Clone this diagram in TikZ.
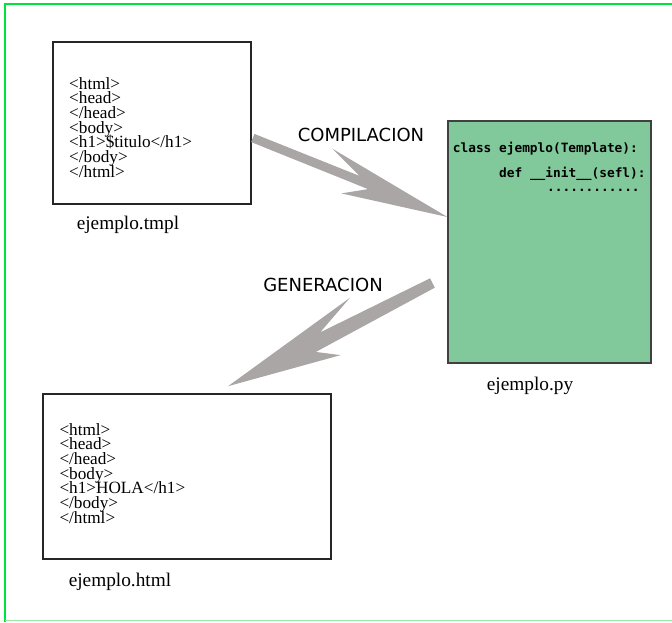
\documentclass[tikz,border=0pt]{standalone}
\usepackage{fontspec}
\setmainfont{Liberation Serif}
\newfontfamily\rotulofont{DejaVu Sans}
\newfontfamily\codigofont{DejaVu Sans Mono}
\usetikzlibrary{calc}
\definecolor{marco}{RGB}{0,226,60}
\definecolor{marcoclaro}{RGB}{150,232,170}
\definecolor{pyverde}{RGB}{129,201,155}
\definecolor{flechagris}{RGB}{170,166,166}

\begin{document}
\begin{tikzpicture}[x=1pt,y=1pt,
  caja/.style={draw=black!85,line width=1.6pt,fill=white,inner sep=0pt},
  cajapy/.style={draw=black!75,line width=1.2pt,fill=pyverde,inner sep=0pt},
  html/.style={anchor=north west,inner sep=0pt,align=left,
    font={\fontsize{17.2}{14.7}\selectfont\lineskiplimit=-30pt}},
  cod/.style={anchor=base west,inner sep=0pt,font={\codigofont\bfseries\fontsize{12.8}{14}\selectfont}},
  nombre/.style={inner sep=0pt,font={\fontsize{19.3}{22}\selectfont}},
  paso/.style={inner sep=0pt,font={\rotulofont\fontsize{18}{20}\selectfont}},
  flecha/.style={fill=flechagris}]
\useasboundingbox (0,0) rectangle (672,-622);
\draw[marco,line width=2pt] (5,-622) -- (5,-4) -- (672,-4);
\draw[marcoclaro,line width=1.5pt] (5,-620.5) -- (672,-620.5);
\node[caja,minimum width=198,minimum height=162] (tmpl) at (152,-123) {};
\node[html] (tmpltxt) at (69,-77) {<html>\\<head>\\</head>\\<body>\\<h1>\$titulo</h1>\\</body>\\</html>};
\node[nombre] (tmplnom) at (128,-225) {ejemplo.tmpl};
\node[cajapy,minimum width=203,minimum height=242] (py) at (549.5,-242) {};
\node[cod] (cod1) at (452.7,-152) {class ejemplo(Template):};
\node[cod] (cod2) at (499,-177) {def \_\_init\_\_(sefl):};
\node[cod] (cod3) at (547,-191) {............};
\node[nombre] (pynom) at (530,-386) {ejemplo.py};
\node[caja,minimum width=288,minimum height=165] (html) at (187,-476.5) {};
\node[html] (htmltxt) at (59.3,-423) {<html>\\<head>\\</head>\\<body>\\<h1>HOLA</h1>\\</body>\\</html>};
\node[nombre] (htmlnom) at (120,-581.5) {ejemplo.html};
\node[paso] (comp) at (361,-134.5) {COMPILACION};
\node[paso] (gen) at (323,-284.5) {GENERACION};
\coordinate (c1a) at ($(tmpl.east)+(1,-15)$);
\coordinate (c1b) at ($(py.west)+(0,25)$);
\fill[flecha] ($(c1a)!4.4pt!90:(c1b)$) -- ($(c1a)!.54!(c1b)!5pt!90:(c1b)$)
  -- ($(c1a)!.37!(c1b)!20pt!90:(c1b)$) -- (c1b)
  -- ($(c1a)!.49!(c1b)!18pt!-90:(c1b)$) -- ($(c1a)!.60!(c1b)!4pt!-90:(c1b)$)
  -- ($(c1a)!4.4pt!-90:(c1b)$) -- cycle;
\coordinate (c2a) at ($(py.west)+(-15,-41)$);
\coordinate (c2b) at ($(html.north)+(41,7)$);
\fill[flecha] ($(c2a)!5.25pt!90:(c2b)$) -- ($(c2a)!.59!(c2b)!9pt!90:(c2b)$)
  -- ($(c2a)!.50!(c2b)!23pt!90:(c2b)$) -- (c2b)
  -- ($(c2a)!.35!(c2b)!24pt!-90:(c2b)$) -- ($(c2a)!.535!(c2b)!6.5pt!-90:(c2b)$)
  -- ($(c2a)!5.25pt!-90:(c2b)$) -- cycle;
\end{tikzpicture}
\end{document}
